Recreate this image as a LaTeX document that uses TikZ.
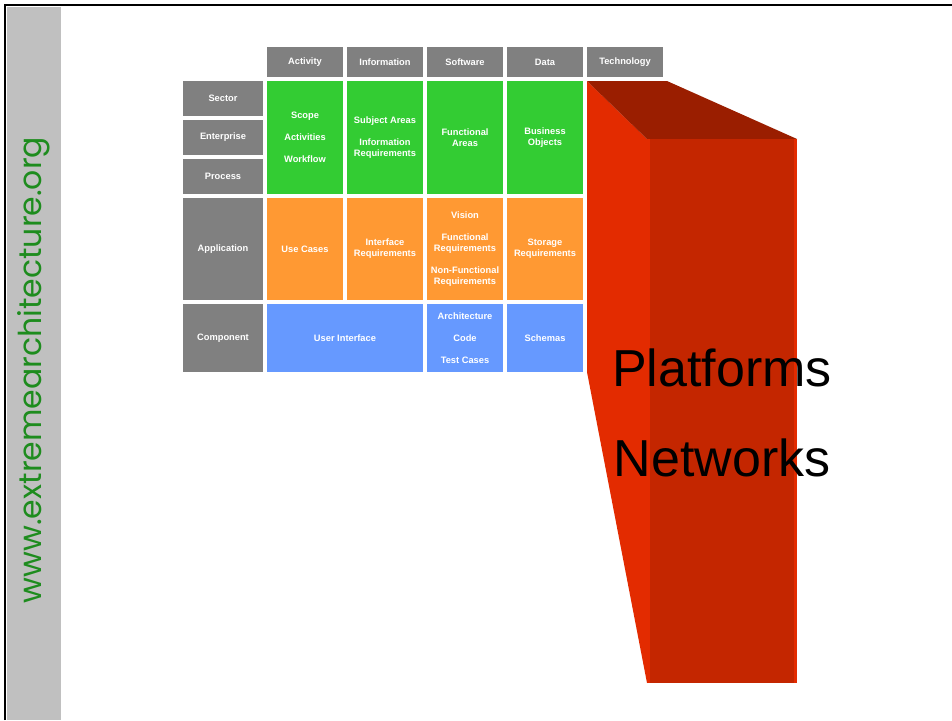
\documentclass[tikz,border=0pt]{standalone}
\usepackage{fontspec}
\usepackage{tikz}
\usetikzlibrary{positioning}
\setmainfont{Liberation Sans}
\newfontfamily\sitefont{Poppins}

\definecolor{zgrey}{HTML}{808080}
\definecolor{zgreen}{HTML}{33CC33}
\definecolor{zorange}{HTML}{FF9933}
\definecolor{zblue}{HTML}{6699FF}
\definecolor{zbar}{HTML}{C0C0C0}
\definecolor{zsite}{HTML}{1E8C1E}
\definecolor{redside}{HTML}{E32B00}
\definecolor{redtop}{HTML}{9A1E00}
\definecolor{redfront}{HTML}{C42600}

\tikzset{
  cell/.style={inner sep=0pt, text=white, align=center,
    font=\fontsize{9.3}{11}\selectfont\bfseries},
  head/.style={cell, fill=zgrey, minimum width=76pt, minimum height=30pt},
  rowlab/.style={cell, fill=zgrey, minimum width=80pt},
}

\begin{document}
\begin{tikzpicture}[x=1pt, y=-1pt]
        \useasboundingbox (0,0) rectangle (952,720);
        \fill[white] (0,0) rectangle (952,720);

        % Frame and side bar
        \fill[zbar] (7,7) rectangle (61,720);
        \draw[line width=2.5pt] (5,720) -- (5,5) -- (952,5);
        \node[rotate=90, text=zsite, font=\sitefont\fontsize{31.5}{36}\selectfont] (site) at (34,370) {www.extremearchitecture.org};

        % Column heads
        \node[head] (activity) at (305,62) {Activity};
        \node[head] (information) at (385,62) {Information};
        \node[head] (software) at (465,62) {Software};
        \node[head] (data) at (545,62) {Data};
        \node[head] (technology) at (625,62) {Technology};

        % Row heads
        \node[rowlab, minimum height=35pt] (sector) at (223,98.5) {Sector};
        \node[rowlab, minimum height=35pt] (enterprise) at (223,137.5) {Enterprise};
        \node[rowlab, minimum height=35pt] (process) at (223,176.5) {Process};
        \node[rowlab, minimum height=102pt] (application) at (223,249) {Application};
        \node[rowlab, minimum height=68pt] (component) at (223,338) {Component};

        % Business row
        \node[cell, fill=zgreen, minimum width=76pt, minimum height=113pt] (scope) at (305,137.5) {Scope\\[11pt]Activities\\[11pt]Workflow};
        \node[cell, fill=zgreen, minimum width=76pt, minimum height=113pt] (subject) at (385,137.5) {Subject Areas\\[11pt]Information\\Requirements};
        \node[cell, fill=zgreen, minimum width=76pt, minimum height=113pt] (functional) at (465,137.5) {Functional\\Areas};
        \node[cell, fill=zgreen, minimum width=76pt, minimum height=113pt] (business) at (545,137.5) {Business\\Objects};

        % Application row
        \node[cell, fill=zorange, minimum width=76pt, minimum height=102pt] (usecases) at (305,249) {Use Cases};
        \node[cell, fill=zorange, minimum width=76pt, minimum height=102pt] (interface) at (385,249) {Interface\\Requirements};
        \node[cell, fill=zorange, minimum width=76pt, minimum height=102pt] (vision) at (465,249) {Vision\\[11pt]Functional\\Requirements\\[11pt]Non-Functional\\Requirements};
        \node[cell, fill=zorange, minimum width=76pt, minimum height=102pt] (storage) at (545,249) {Storage\\Requirements};

        % Component row
        \node[cell, fill=zblue, minimum width=156pt, minimum height=68pt] (userif) at (345,338) {User Interface};
        \node[cell, fill=zblue, minimum width=76pt, minimum height=68pt] (architecture) at (465,338) {Architecture\\[11pt]Code\\[11pt]Test Cases};
        \node[cell, fill=zblue, minimum width=76pt, minimum height=68pt] (schemas) at (545,338) {Schemas};

        % Technology block
        \fill[redside] (587,81) -- (647,139) -- (647,683) -- (587,372) -- cycle;
        \fill[redtop] (587,81) -- (667,81) -- (797,139) -- (647,139) -- cycle;
        \fill[redfront] (647,139) rectangle (797,683);
        \fill[redside] (794,139) rectangle (797,683);
        \fill[redside] (647,139) rectangle (650,683);
        \node[font=\fontsize{52}{60}\selectfont] (platforms) at (722,368) {Platforms};
        \node[font=\fontsize{52}{60}\selectfont] (networks) at (722,458) {Networks};
\end{tikzpicture}
\end{document}
